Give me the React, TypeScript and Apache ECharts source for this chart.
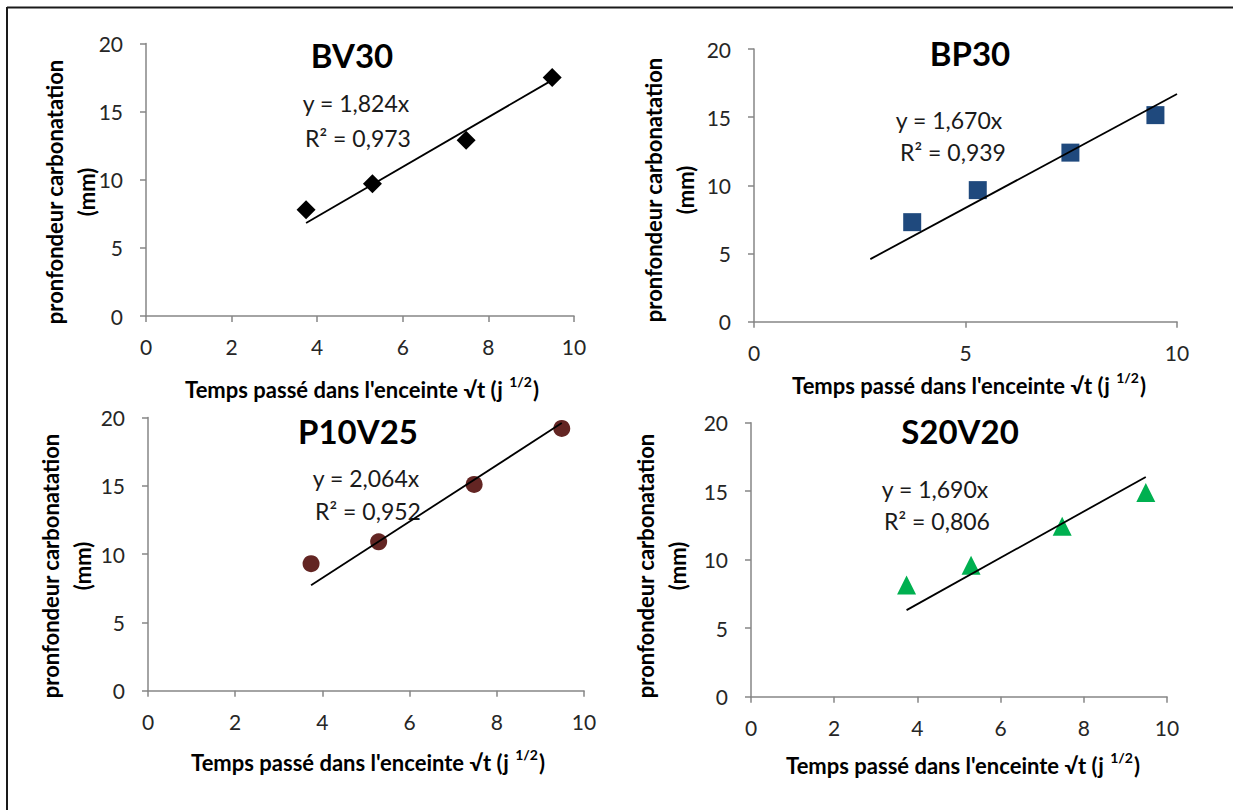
import React, { useEffect, useRef } from "react";
import * as echarts from "echarts";

const FONT = "Lato";

// sqrt(t) values (x)
const xBV30 = [3.74, 5.29, 7.48, 9.49];
const yBV30 = [7.8, 9.7, 12.9, 17.5];
const trendBV30 = [[3.74, 6.82], [9.49, 17.31]];

const xBP30 = [3.74, 5.29, 7.48, 9.49];
const yBP30 = [7.3, 9.65, 12.4, 15.15];
const trendBP30 = [[2.75, 4.59], [10, 16.7]];

const xP10V25 = [3.74, 5.29, 7.48, 9.49];
const yP10V25 = [9.3, 10.9, 15.1, 19.2];
const trendP10V25 = [[3.74, 7.72], [9.49, 19.59]];

const xS20V20 = [3.74, 5.29, 7.48, 9.49];
const yS20V20 = [8.15, 9.6, 12.45, 14.9];
const trendS20V20 = [[3.74, 6.32], [9.49, 16.04]];

const titles = ["BV30", "BP30", "P10V25", "S20V20"];
const eqLines = ["y = 1,824x", "y = 1,670x", "y = 2,064x", "y = 1,690x"];
const r2Values = ["0,973", "0,939", "0,952", "0,806"];
const xIntervals = [2, 5, 2, 2];

const panels = [
  { xs: xBV30, ys: yBV30, trend: trendBV30, symbol: "diamond", size: 19, color: "#000000",
    grid: { left: 146, top: 43.5, width: 428, height: 272.5 },
    title: [352, 55], eq: [356, 103], r2: [358, 138], yt: [70, 192], xt: [362, 387] },
  { xs: xBP30, ys: yBP30, trend: trendBP30, symbol: "rect", size: 18, color: "#1F497D",
    grid: { left: 754, top: 49, width: 423, height: 272.7 },
    title: [970, 53], eq: [949, 120], r2: [953, 152], yt: [669, 190], xt: [969, 383] },
  { xs: xP10V25, ys: yP10V25, trend: trendP10V25, symbol: "circle", size: 17, color: "#632523",
    grid: { left: 148, top: 417.5, width: 436, height: 273.2 },
    title: [358, 431], eq: [366, 478], r2: [368, 511], yt: [66, 566], xt: [368, 760] },
  { xs: xS20V20, ys: yS20V20, trend: trendS20V20, symbol: "triangle", size: 19, color: "#00B050",
    grid: { left: 751, top: 422.7, width: 416, height: 274 },
    title: [960, 431], eq: [935, 489], r2: [937, 521], yt: [661, 566], xt: [963, 763] },
];

export default function App() {
  const ref = useRef<HTMLDivElement>(null);
  useEffect(() => {
    if (!ref.current) return;
    const chart = echarts.init(ref.current, undefined, { renderer: "svg" });
    const axisColor = "#868686";
    const grids: any[] = [];
    const xAxes: any[] = [];
    const yAxes: any[] = [];
    const series: any[] = [];
    const graphics: any[] = [
      { type: "line", shape: { x1: 7, y1: 7.5, x2: 1233, y2: 7.5 }, style: { stroke: "#1a1a1a", lineWidth: 2 } },
      { type: "line", shape: { x1: 7, y1: 7, x2: 7, y2: 810 }, style: { stroke: "#1a1a1a", lineWidth: 2 } },
    ];
    panels.forEach((p, i) => {
      grids.push({ ...p.grid, containLabel: false });
      xAxes.push({
        type: "value", gridIndex: i, min: 0, max: 10, interval: xIntervals[i],
        axisLine: { show: true, onZero: false, lineStyle: { color: axisColor, width: 1.5 } },
        axisTick: { show: true, length: 6, lineStyle: { color: axisColor, width: 1.5 } },
        axisLabel: { color: "#262626", fontSize: 21, fontFamily: FONT, margin: 20 },
        splitLine: { show: false },
      });
      yAxes.push({
        type: "value", gridIndex: i, min: 0, max: 20, interval: 5,
        axisLine: { show: true, onZero: false, lineStyle: { color: axisColor, width: 1.5 } },
        axisTick: { show: true, length: 6, lineStyle: { color: axisColor, width: 1.5 } },
        axisLabel: { color: "#262626", fontSize: 21, fontFamily: FONT, margin: 23 },
        splitLine: { show: false },
      });
      series.push({
        type: "line", xAxisIndex: i, yAxisIndex: i, data: p.trend, showSymbol: false,
        symbol: "none", lineStyle: { color: "#000", width: 1.8 }, silent: true, z: 3,
      });
      series.push({
        type: "scatter", xAxisIndex: i, yAxisIndex: i,
        data: p.xs.map((x, k) => [x, p.ys[k]]),
        symbol: p.symbol, symbolSize: p.size, itemStyle: { color: p.color, opacity: 1 }, z: 2,
      });
      graphics.push({
        type: "text", x: p.title[0], y: p.title[1],
        style: { text: titles[i], font: `bold 33px ${FONT}`, fill: "#000", align: "center", verticalAlign: "middle" },
      });
      graphics.push({
        type: "text", x: p.eq[0], y: p.eq[1],
        style: { text: eqLines[i], font: `23px ${FONT}`, fill: "#1a1a1a", align: "center", verticalAlign: "middle" },
      });
      graphics.push({
        type: "text", x: p.r2[0], y: p.r2[1],
        style: { text: "R² = " + r2Values[i], font: `23px ${FONT}`, fill: "#1a1a1a", align: "center", verticalAlign: "middle" },
      });
      graphics.push({
        type: "text", x: p.yt[0], y: p.yt[1], rotation: Math.PI / 2,
        style: {
          text: "pronfondeur carbonatation\n(mm)", font: `bold 22px ${FONT}`, fill: "#000",
          align: "center", verticalAlign: "middle", lineHeight: 32,
        },
      });
      graphics.push({
        type: "text", x: p.xt[0], y: p.xt[1],
        style: {
          text: "{a|Temps passé dans l'enceinte √t (j }{s|1/2}{a|)}",
          align: "center", verticalAlign: "middle",
          rich: {
            a: { font: `bold 22px ${FONT}`, fill: "#000", lineHeight: 26, verticalAlign: "bottom" },
            s: { font: `bold 14px ${FONT}`, fill: "#000", lineHeight: 26, verticalAlign: "top", padding: [0, 1, 9, 1] },
          },
        },
      });
    });
    chart.setOption({
      animation: false,
      backgroundColor: "#ffffff",
      grid: grids,
      xAxis: xAxes,
      yAxis: yAxes,
      series,
      graphic: graphics,
    });
    return () => chart.dispose();
  }, []);
  return (
    <div
      ref={ref}
      style={{ position: "fixed", left: 0, top: 0, width: 1233, height: 810, background: "#fff" }}
    />
  );
}
